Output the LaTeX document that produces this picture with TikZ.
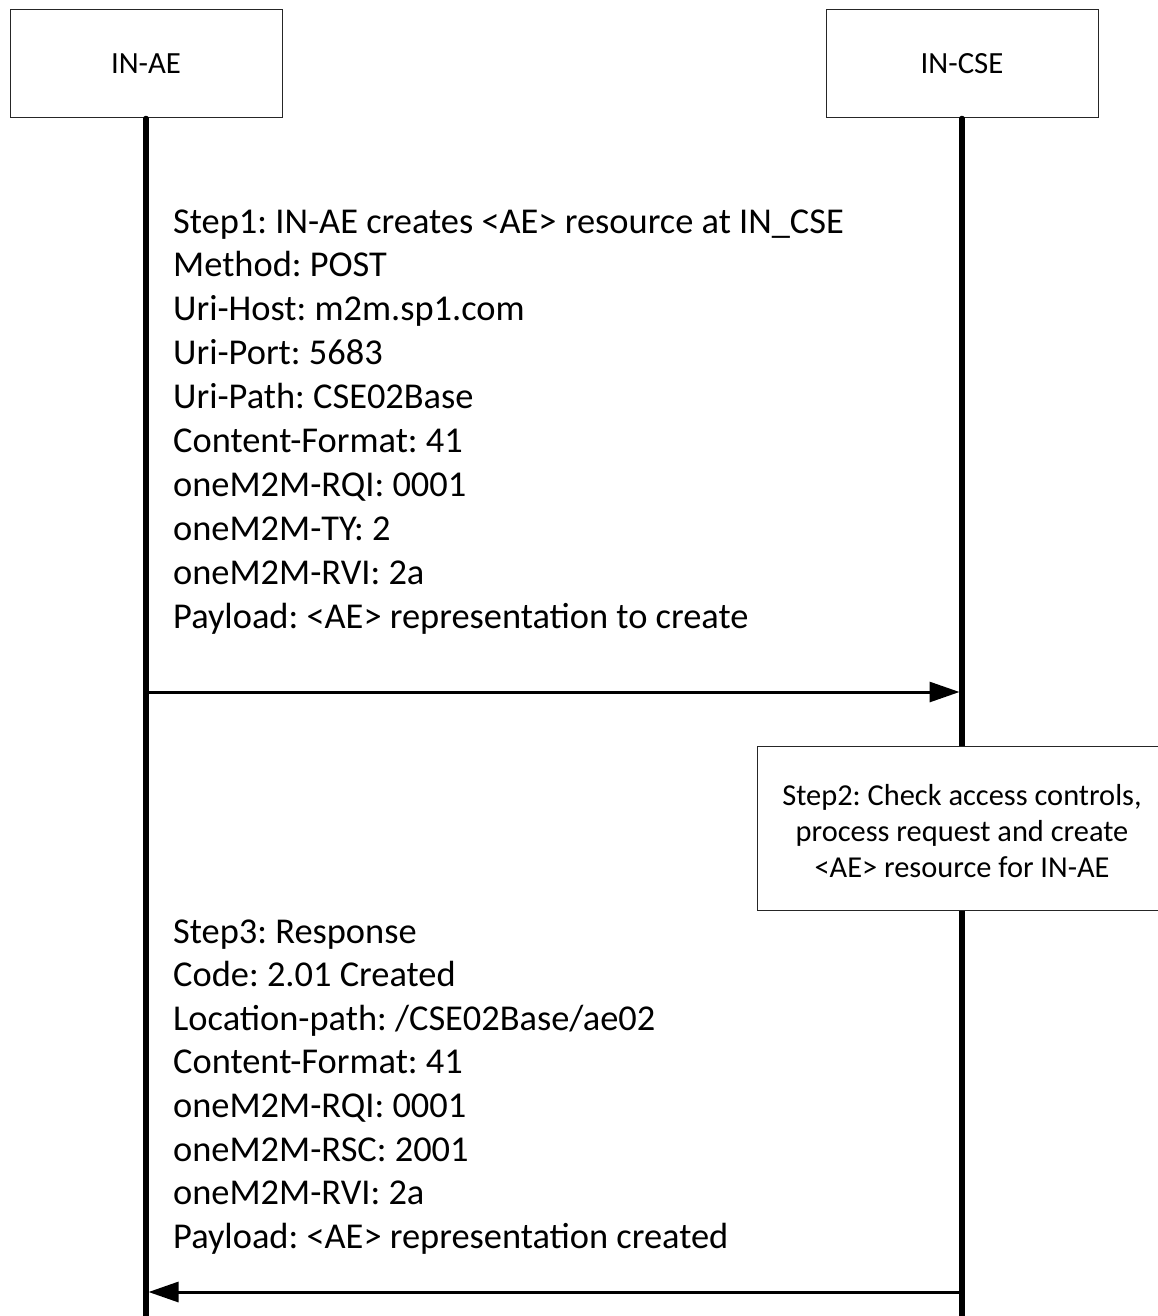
\documentclass[tikz,border=0pt]{standalone}
\usepackage{fontspec}
\setmainfont{Carlito}
\usetikzlibrary{arrows.meta}
\frenchspacing
\begin{document}
\begin{tikzpicture}[x=1pt,y=-1pt,
  actor/.style={draw=black!85, line width=1pt, fill=white, minimum width=272pt, minimum height=108pt, inner sep=0pt, font=\fontsize{30.8}{36}\selectfont},
  life/.style={line width=5.5pt, line cap=round},
  msg/.style={line width=3pt, -{Triangle[length=30pt,width=20pt]}},
  txt/.style={anchor=base west, inner sep=0pt, font=\fontsize{36.4}{44}\selectfont},
  notebox/.style={draw=black!85, line width=1pt, fill=white, minimum width=410pt, minimum height=164pt, inner sep=0pt},
  notetxt/.style={anchor=base, inner sep=0pt, font=\fontsize{30.4}{36}\selectfont}
]
\useasboundingbox (0,0) rectangle (1157,1316);
\node[actor] (ae) at (146,64) {IN-AE};
\node[actor] (cse) at (962,64) {IN-CSE};
\coordinate (aeBot) at (146,1325);
\coordinate (cseBot) at (962,1325);
\draw[life] (ae.south) -- (aeBot);
\draw[life] (cse.south) -- (cseBot);
% Step1 text
\foreach \t [count=\i from 0] in {Step1: IN-AE creates <AE> resource at IN\_CSE,Method: POST,Uri-Host: m2m.sp1.com,Uri-Port: 5683,Uri-Path: CSE02Base,Content-Format: 41,oneM2M-RQI: 0001,oneM2M-TY: 2,oneM2M-RVI: 2a,Payload: <AE> representation to create}
  \node[txt] (sa\i) at (173,233+43.9*\i) {\t};
\coordinate (m1s) at (146,692);
\coordinate (m1e) at (959.5,692);
\draw[msg] (m1s) -- (m1e);
% Step2 box
\node[notebox] (step2) at (962,828) {};
\node[notetxt] (n1) at (962,805) {Step2: Check access controls,};
\node[notetxt] (n2) at (962,841) {process request and create};
\node[notetxt] (n3) at (962,877) {<AE> resource for IN-AE};
% Step3 text
\foreach \t [count=\i from 0] in {Step3: Response,Code: 2.01 Created,Location-path: /CSE02Base/ae02,Content-Format: 41,oneM2M-RQI: 0001,oneM2M-RSC: 2001,oneM2M-RVI: 2a,Payload: <AE> representation created}
  \node[txt] (sb\i) at (173,943+43.6*\i) {\t};
\coordinate (m2s) at (962,1292);
\coordinate (m2e) at (148.5,1292);
\draw[msg] (m2s) -- (m2e);
\end{tikzpicture}
\end{document}
